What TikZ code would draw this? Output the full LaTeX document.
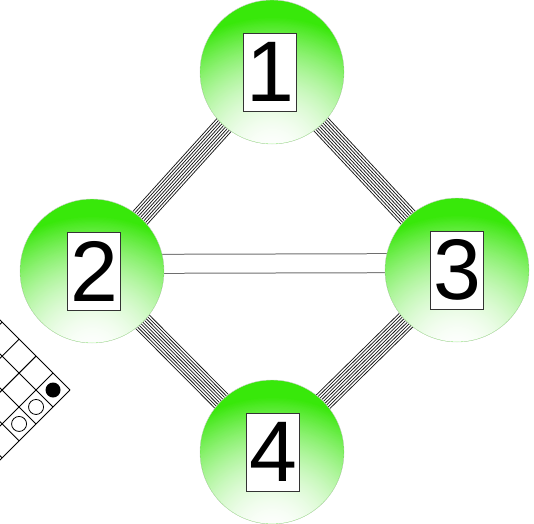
\documentclass[tikz,border=0pt]{standalone}
\usepackage{fontspec}
\setmainfont{Liberation Sans}
\usetikzlibrary{calc, backgrounds, fadings}
\definecolor{ballgreen}{HTML}{38E80A}
\definecolor{wiregray}{HTML}{6E6E6E}
\tikzfading[name=glow, inner color=transparent!0, outer color=transparent!100]

\begin{document}
\begin{tikzpicture}[x=1pt, y=1pt,
    ball/.style={circle, minimum size=144pt, inner sep=0pt, draw=gray!40, thin, fill=ballgreen},
    digitbox/.style={draw=black!80, thin, fill=white, minimum width=53pt, minimum height=78pt, inner sep=0pt,
      font=\fontsize{86}{86}\selectfont},
    wire/.style={line width=0.75pt, black!90}]
  \useasboundingbox (0,0) rectangle (534,523);
  \clip (0,0) rectangle (534,523);

  % the four balls
  \node[ball] (n1) at (272,451) {};
  \node[ball] (n2) at (92,252) {};
  \node[ball] (n3) at (457,253) {};
  \node[ball] (n4) at (272,71) {};
  % light from below
  \foreach \n in {n1,n2,n3,n4} {
    \begin{scope}
      \clip (\n.center) circle (71.6pt);
      \fill[white, path fading=glow] ([yshift=-85pt]\n.center) circle (140pt);
      \fill[white, path fading=glow] ([yshift=-85pt]\n.center) circle (140pt);
    \end{scope}
  }
  \node[digitbox] (d1) at ([xshift=-2pt]n1) {1};
  \node[digitbox] (d2) at ([xshift=2pt]n2) {2};
  \node[digitbox] (d3) at (n3) {3};
  \node[digitbox] (d4) at ([xshift=1pt]n4) {4};

  \begin{scope}[on background layer]
    % wire bundles
    \foreach \a/\b in {n1/n2, n1/n3, n2/n4, n3/n4}
      \foreach \k in {-4,...,4}
        \draw[wire] ($(\a.center)!\k*2.4pt!90:(\b.center)$) -- ($(\b.center)!\k*2.4pt!-90:(\a.center)$);
    \draw[double=white, double distance=18pt, line width=1pt, wiregray]
      ([yshift=7pt]n2.center) -- ([yshift=7pt]n3.center);

    % board in the corner
    \begin{scope}[shift={(70,133)}, rotate=135]
      \draw[line width=0.9pt] (0,0) grid[step=24pt] (144,144);
      \fill (12,12) circle (7.5pt);
      \draw[line width=0.8pt] (12,36) circle (7.5pt);
      \draw[line width=0.8pt] (12,60) circle (7.5pt);
    \end{scope}
  \end{scope}
\end{tikzpicture}
\end{document}
